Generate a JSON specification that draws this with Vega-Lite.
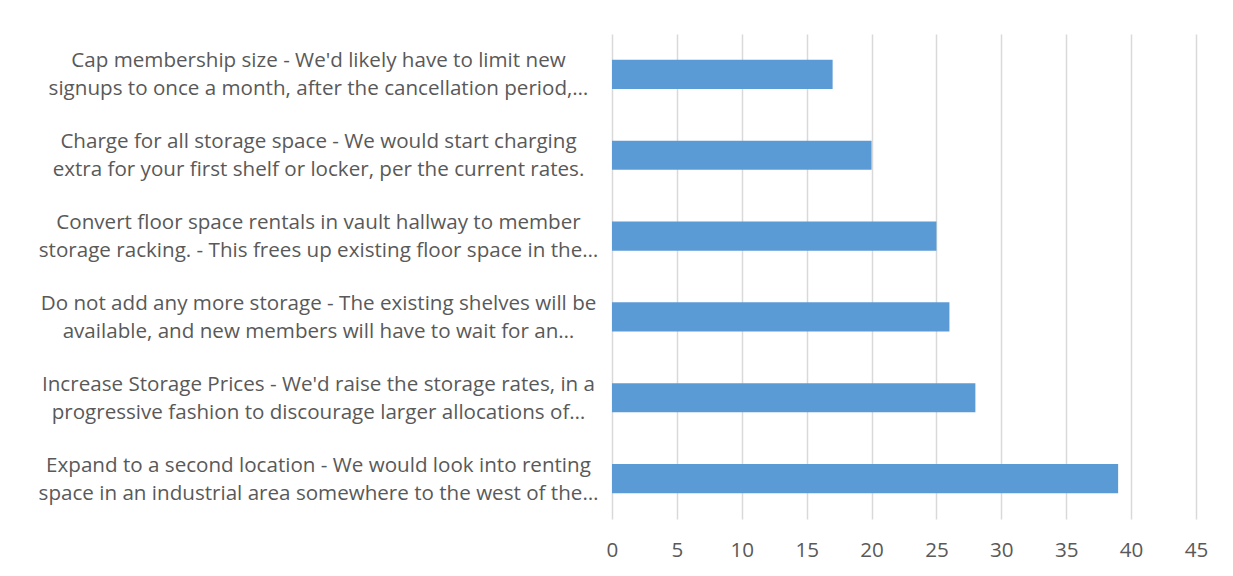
{
  "$schema": "https://vega.github.io/schema/vega-lite/v6.json",
  "width": 584,
  "height": 485,
  "autosize": "none",
  "padding": {"left": 612, "top": 34, "right": 37, "bottom": 57},
  "background": "white",
  "data": {
    "values": [
      {"option": "Cap membership size - We'd likely have to limit new|signups to once a month, after the cancellation period,…", "count": 17},
      {"option": "Charge for all storage space - We would start charging|extra for your first shelf or locker, per the current rates.", "count": 20},
      {"option": "Convert floor space rentals in vault hallway to member|storage racking. - This frees up existing floor space in the…", "count": 25},
      {"option": "Do not add any more storage - The existing shelves will be|available, and new members will have to wait for an…", "count": 26},
      {"option": "Increase Storage Prices - We'd raise the storage rates, in a|progressive fashion to discourage larger allocations of…", "count": 28},
      {"option": "Expand to a second location - We would look into renting|space in an industrial area somewhere to the west of the…", "count": 39}
    ]
  },
  "mark": {"type": "bar", "color": "#5B9BD5"},
  "encoding": {
    "y": {
      "field": "option",
      "type": "nominal",
      "sort": null,
      "scale": {"paddingInner": 0.64, "paddingOuter": 0.32},
      "axis": {
        "title": null,
        "ticks": false,
        "domain": false,
        "labelExpr": "split(datum.label, '|')",
        "labelAlign": "center",
        "labelBaseline": "middle",
        "labelOffset": -13,
        "labelPadding": 294,
        "labelFont": "Open Sans",
        "labelFontSize": 20.6,
        "labelColor": "#595959",
        "labelLineHeight": 28,
        "labelLimit": 0
      }
    },
    "x": {
      "field": "count",
      "type": "quantitative",
      "scale": {"domain": [0, 45], "nice": false},
      "axis": {
        "title": null,
        "values": [0, 5, 10, 15, 20, 25, 30, 35, 40, 45],
        "ticks": false,
        "domain": false,
        "grid": true,
        "gridColor": "#D9D9D9",
        "gridWidth": 1.5,
        "labelPadding": 21,
        "labelFont": "Open Sans",
        "labelFontSize": 20.6,
        "labelColor": "#595959",
        "labelFlush": false
      }
    }
  },
  "config": {"view": {"stroke": null}}
}
